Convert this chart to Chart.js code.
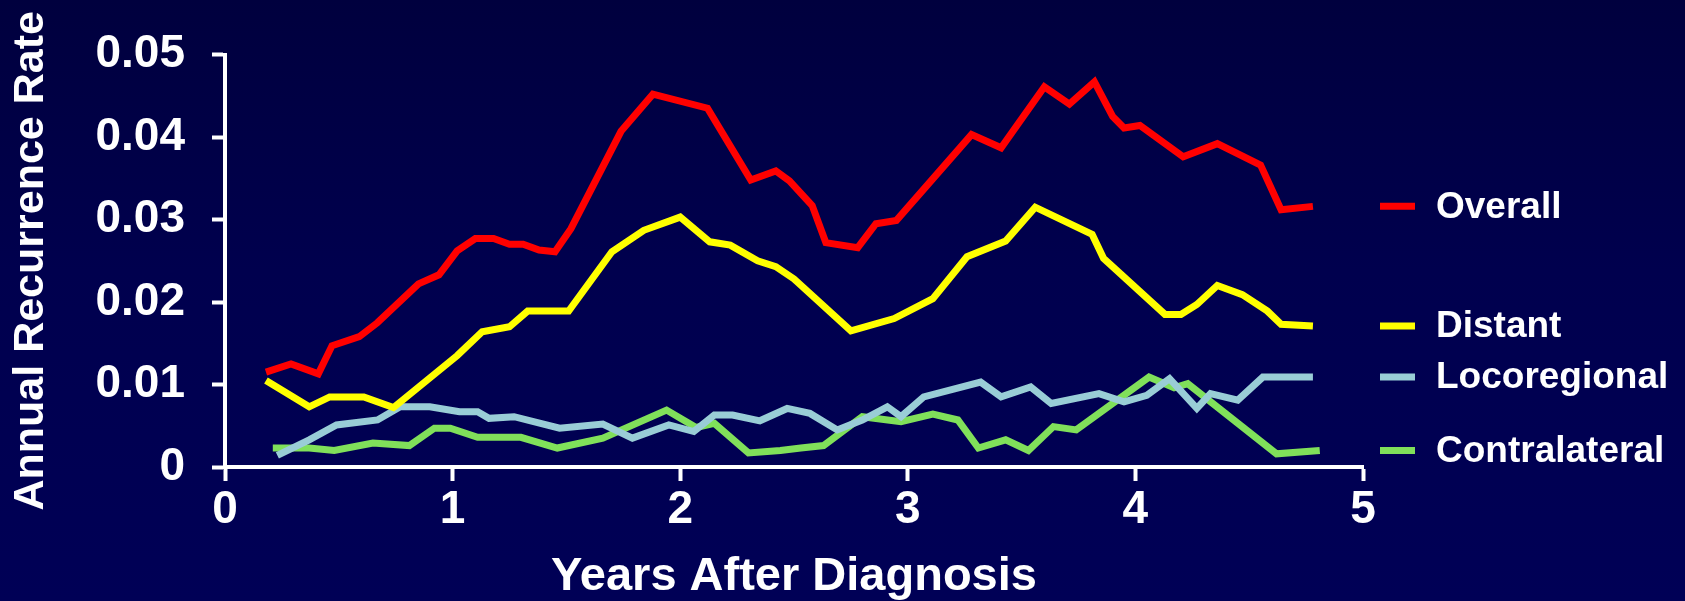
<!DOCTYPE html>
<html>
<head>
<meta charset="utf-8">
<script src="https://cdn.jsdelivr.net/npm/chart.js@4.4.1/dist/chart.umd.min.js"></script>
<style>
  html, body { margin: 0; padding: 0; }
  body { background: linear-gradient(to bottom, #00003e 0%, #00004e 45%, #000056 100%); }
  #wrap { position: relative; width: 1685px; height: 601px; }
</style>
</head>
<body>
<div id="wrap"><canvas id="rateChart"></canvas></div>
<script>
// years after diagnosis / annual recurrence rate
const overallX = [0.18, 0.29, 0.41, 0.47, 0.59, 0.67, 0.85, 0.94, 1.02, 1.10, 1.18, 1.25, 1.31, 1.38, 1.45, 1.52, 1.74, 1.88, 2.12, 2.31, 2.42, 2.48, 2.58, 2.64, 2.78, 2.86, 2.95, 3.28, 3.41, 3.60, 3.71, 3.82, 3.90, 3.95, 4.02, 4.21, 4.36, 4.55, 4.64, 4.78];
const overallY = [0.0115, 0.0125, 0.0113, 0.0147, 0.0158, 0.0175, 0.0222, 0.0233, 0.0262, 0.0277, 0.0277, 0.0270, 0.0270, 0.0263, 0.0261, 0.0289, 0.0407, 0.0452, 0.0435, 0.0348, 0.0359, 0.0347, 0.0317, 0.0272, 0.0266, 0.0295, 0.0299, 0.0403, 0.0387, 0.0461, 0.0440, 0.0467, 0.0425, 0.0411, 0.0414, 0.0376, 0.0392, 0.0366, 0.0312, 0.0316];

const distantX = [0.18, 0.37, 0.46, 0.61, 0.74, 1.02, 1.13, 1.25, 1.33, 1.51, 1.70, 1.84, 2.00, 2.13, 2.22, 2.34, 2.42, 2.50, 2.75, 2.94, 3.11, 3.26, 3.43, 3.56, 3.81, 3.86, 4.13, 4.20, 4.27, 4.36, 4.47, 4.58, 4.64, 4.78];
const distantY = [0.0105, 0.0073, 0.0085, 0.0085, 0.0072, 0.0135, 0.0164, 0.0170, 0.0189, 0.0189, 0.0261, 0.0287, 0.0303, 0.0273, 0.0269, 0.0250, 0.0243, 0.0228, 0.0165, 0.0180, 0.0204, 0.0255, 0.0274, 0.0315, 0.0282, 0.0253, 0.0185, 0.0185, 0.0197, 0.0220, 0.0209, 0.0189, 0.0173, 0.0171];

const locoX = [0.23, 0.37, 0.49, 0.67, 0.77, 0.90, 1.03, 1.11, 1.16, 1.27, 1.47, 1.66, 1.79, 1.95, 2.06, 2.15, 2.23, 2.35, 2.47, 2.57, 2.69, 2.80, 2.91, 2.97, 3.07, 3.32, 3.41, 3.54, 3.63, 3.84, 3.95, 4.05, 4.15, 4.27, 4.33, 4.45, 4.56, 4.78];
const locoY = [0.0014, 0.0033, 0.0051, 0.0057, 0.0073, 0.0073, 0.0067, 0.0067, 0.0059, 0.0061, 0.0047, 0.0052, 0.0035, 0.0051, 0.0043, 0.0063, 0.0063, 0.0056, 0.0071, 0.0065, 0.0045, 0.0057, 0.0073, 0.0061, 0.0085, 0.0103, 0.0085, 0.0097, 0.0077, 0.0089, 0.0079, 0.0087, 0.0107, 0.0071, 0.0089, 0.0081, 0.0109, 0.0109];

const contraX = [0.21, 0.37, 0.48, 0.65, 0.81, 0.92, 0.99, 1.11, 1.30, 1.46, 1.66, 1.94, 2.07, 2.15, 2.30, 2.44, 2.53, 2.63, 2.80, 2.97, 3.11, 3.22, 3.31, 3.43, 3.53, 3.64, 3.74, 4.06, 4.17, 4.23, 4.62, 4.81];
const contraY = [0.0023, 0.0023, 0.0020, 0.0029, 0.0026, 0.0047, 0.0047, 0.0036, 0.0036, 0.0023, 0.0035, 0.0069, 0.0048, 0.0053, 0.0017, 0.0020, 0.0023, 0.0026, 0.0061, 0.0055, 0.0064, 0.0057, 0.0023, 0.0033, 0.0020, 0.0049, 0.0045, 0.0109, 0.0096, 0.0101, 0.0016, 0.0020];

const seriesNames = ['Overall', 'Distant', 'Locoregional', 'Contralateral'];
const xTickLabels = ['0', '1', '2', '3', '4', '5'];
const yTickLabels = ['0', '0.01', '0.02', '0.03', '0.04', '0.05'];

const FONT = '"Liberation Sans", Arial, Helvetica, sans-serif';

function pts(xs, ys) {
  return xs.map((x, i) => ({ x: x, y: ys[i] }));
}

function lineSet(label, xs, ys, color) {
  return {
    label: label,
    data: pts(xs, ys),
    borderColor: color,
    backgroundColor: color,
    borderWidth: 7,
    borderJoinStyle: 'miter',
    borderCapStyle: 'butt',
    pointRadius: 0,
    tension: 0,
    fill: false
  };
}

// legend entries sit at the height where each line ends, right of the plot
const endLegend = {
  id: 'endLegend',
  afterDatasetsDraw(chart) {
    const { ctx, chartArea } = chart;
    ctx.save();
    chart.data.datasets.forEach((ds, i) => {
      const meta = chart.getDatasetMeta(i);
      const last = meta.data[meta.data.length - 1];
      const y = last.y;
      ctx.strokeStyle = ds.borderColor;
      ctx.lineWidth = 7;
      ctx.lineCap = 'butt';
      ctx.beginPath();
      ctx.moveTo(chartArea.right + 17, y);
      ctx.lineTo(chartArea.right + 52, y);
      ctx.stroke();
      ctx.fillStyle = '#ffffff';
      ctx.font = 'bold 37px ' + FONT;
      ctx.textAlign = 'left';
      ctx.textBaseline = 'middle';
      ctx.fillText(ds.label, chartArea.right + 73, y + 1);
    });
    ctx.restore();
  }
};

const axisGrid = {
  display: true,
  drawOnChartArea: false,
  drawTicks: true,
  tickColor: '#ffffff',
  tickWidth: 4
};

new Chart(document.getElementById('rateChart'), {
  type: 'line',
  data: {
    datasets: [
      lineSet(seriesNames[0], overallX, overallY, '#ff0000'),
      lineSet(seriesNames[1], distantX, distantY, '#ffff00'),
      lineSet(seriesNames[2], locoX, locoY, '#99cdd6'),
      lineSet(seriesNames[3], contraX, contraY, '#80e05a')
    ]
  },
  options: {
    animation: false,
    responsive: true,
    maintainAspectRatio: false,
    layout: { padding: { top: 51, right: 322, bottom: 0, left: 0 } },
    plugins: {
      legend: { display: false },
      tooltip: { enabled: false }
    },
    scales: {
      x: {
        type: 'linear',
        min: 0,
        max: 5,
        afterFit: s => { s.height = 134; },
        ticks: {
          stepSize: 1,
          color: '#ffffff',
          padding: 2,
          font: { family: FONT, size: 46, weight: 'bold' },
          callback: (v, i) => xTickLabels[i]
        },
        grid: Object.assign({ tickLength: 14 }, axisGrid),
        border: { display: true, color: '#ffffff', width: 4 },
        title: {
          display: true,
          text: 'Years After Diagnosis',
          color: '#ffffff',
          padding: { top: 0, bottom: 0 },
          font: { family: FONT, size: 47, weight: 'bold', lineHeight: 1 }
        }
      },
      y: {
        type: 'linear',
        min: 0,
        max: 0.05,
        afterFit: s => { s.width = 225; },
        ticks: {
          stepSize: 0.01,
          color: '#ffffff',
          padding: 27,
          font: { family: FONT, size: 46, weight: 'bold' },
          callback: (v, i) => yTickLabels[i]
        },
        grid: Object.assign({ tickLength: 13 }, axisGrid),
        border: { display: true, color: '#ffffff', width: 4 },
        title: {
          display: true,
          text: 'Annual Recurrence Rate',
          color: '#ffffff',
          padding: { top: 10, bottom: 10 },
          font: { family: FONT, size: 43, weight: 'bold', lineHeight: 1 }
        }
      }
    }
  },
  plugins: [endLegend]
});
</script>
</body>
</html>
